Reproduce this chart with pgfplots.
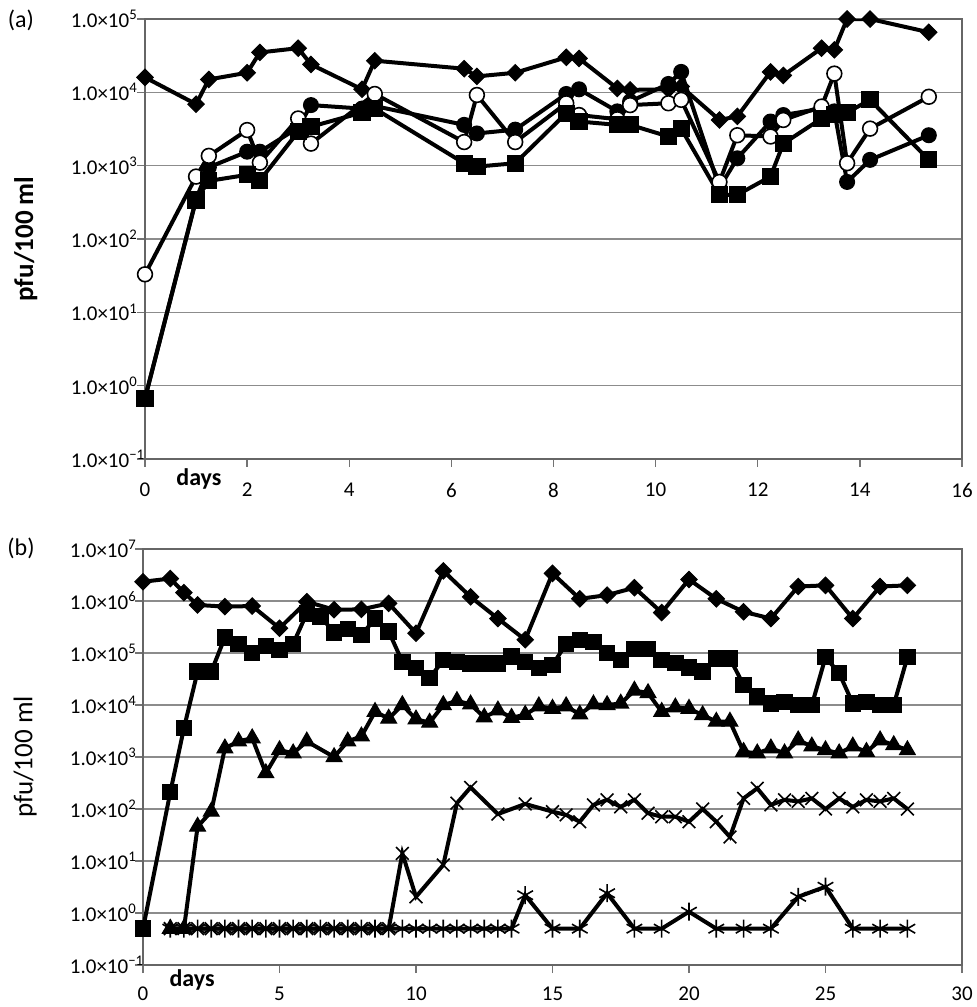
\documentclass[border=0pt]{standalone}
\usepackage{fontspec}
\setmainfont{Carlito}
\usepackage{pgfplots}
\usepackage{pgfplotstable}
\pgfplotsset{compat=1.18}

% ---- panel (a) ----
\pgfplotstableread{
day val
0 1.6e4
1.0 6.9e3
1.25 1.5e4
2.0 1.85e4
2.25 3.5e4
3.0 4.0e4
3.25 2.4e4
4.25 1.1e4
4.5 2.7e4
6.25 2.1e4
6.5 1.65e4
7.25 1.85e4
8.25 3.0e4
8.5 2.9e4
9.25 1.13e4
9.5 1.08e4
10.25 1.1e4
10.5 1.2e4
11.25 4.2e3
11.6 4.7e3
12.25 1.9e4
12.5 1.7e4
13.25 4.0e4
13.5 3.8e4
13.75 1.0e5
14.2 1.0e5
15.35 6.6e4
}\aDiamond

\pgfplotstableread{
day val
0 0.67
1.0 3.5e2
1.25 9.5e2
2.0 1.55e3
2.25 1.55e3
3.0 3.3e3
3.25 6.7e3
4.25 6.0e3
4.5 6.5e3
6.25 3.6e3
6.5 2.75e3
7.25 3.1e3
8.25 9.5e3
8.5 1.1e4
9.25 5.5e3
9.5 7.5e3
10.25 1.3e4
10.5 1.9e4
11.25 5.0e2
11.6 1.26e3
12.25 4.0e3
12.5 4.9e3
13.25 6.0e3
13.5 5.5e3
13.75 6.0e2
14.2 1.2e3
15.35 2.6e3
}\aDot

\pgfplotstableread{
day val
0 33
1.0 7.1e2
1.25 1.36e3
2.0 3.06e3
2.25 1.1e3
3.0 4.4e3
3.25 2.0e3
4.5 9.5e3
6.25 2.1e3
6.5 9.2e3
7.25 2.1e3
8.25 7.1e3
8.5 4.9e3
9.25 4.3e3
9.5 6.7e3
10.25 7.1e3
10.5 7.9e3
11.25 6.0e2
11.6 2.6e3
12.25 2.5e3
12.5 4.2e3
13.25 6.4e3
13.5 1.8e4
13.75 1.08e3
14.2 3.2e3
15.35 8.7e3
}\aCircle

\pgfplotstableread{
day val
0 0.67
1.0 3.4e2
1.25 6.2e2
2.0 7.5e2
2.25 6.3e2
3.0 2.9e3
3.25 3.4e3
4.25 5.3e3
4.5 6.0e3
6.25 1.08e3
6.5 9.7e2
7.25 1.08e3
8.25 5.2e3
8.5 4.0e3
9.25 3.6e3
9.5 3.6e3
10.25 2.5e3
10.5 3.2e3
11.25 4.0e2
11.6 4.0e2
12.25 7.1e2
12.5 2.0e3
13.25 4.4e3
13.5 5.0e3
13.75 5.3e3
14.2 7.9e3
15.35 1.2e3
}\aSquare

% ---- panel (b) ----
\pgfplotstableread{
day val
0 2.35e6
1 2.7e6
1.5 1.45e6
2 8.4e5
3 7.8e5
4 8.0e5
5 3.0e5
6 9.7e5
7 6.8e5
8 6.9e5
9 9.0e5
10 2.4e5
11 3.8e6
12 1.2e6
13 4.6e5
14 1.8e5
15 3.4e6
16 1.1e6
17 1.3e6
18 1.8e6
19 6.0e5
20 2.6e6
21 1.1e6
22 6.2e5
23 4.6e5
24 1.9e6
25 2.0e6
26 4.6e5
27 1.9e6
28 2.0e6
}\bDiamond

\pgfplotstableread{
day val
0 0.5
1 2.1e2
1.5 3.6e3
2 4.4e4
2.5 4.4e4
3 2.0e5
3.5 1.5e5
4 9.9e4
4.5 1.36e5
5 1.15e5
5.5 1.5e5
6 5.8e5
6.5 5.0e5
7 2.5e5
7.5 2.9e5
8 2.2e5
8.5 4.6e5
9 2.6e5
9.5 6.8e4
10 5.1e4
10.5 3.3e4
11 7.3e4
11.5 6.8e4
12 6.3e4
12.5 6.3e4
13 6.3e4
13.5 8.5e4
14 6.8e4
14.5 5.1e4
15 5.9e4
15.5 1.5e5
16 1.8e5
16.5 1.65e5
17 9.9e4
17.5 7.3e4
18 1.2e5
18.5 1.2e5
19 7.3e4
19.5 6.5e4
20 5.3e4
20.5 4.4e4
21 7.9e4
21.5 7.9e4
22 2.4e4
22.5 1.45e4
23 1.07e4
23.5 1.15e4
24 1.0e4
24.5 1.0e4
25 8.3e4
25.5 4.1e4
26 1.07e4
26.5 1.15e4
27 1.0e4
27.5 1.0e4
28 8.3e4
}\bSquare

\pgfplotstableread{
day val
1 0.5
1.5 0.5
2 46
2.5 89
3 1.47e3
3.5 2.0e3
4 2.3e3
4.5 4.9e2
5 1.36e3
5.5 1.18e3
6 2.0e3
7 1.0e3
7.5 2.0e3
8 2.5e3
8.5 7.4e3
9 5.5e3
9.5 1.0e4
10 5.3e3
10.5 4.6e3
11 1.0e4
11.5 1.2e4
12 1.03e4
12.5 5.8e3
13 7.9e3
13.5 5.7e3
14 6.5e3
14.5 9.5e3
15 8.5e3
15.5 9.5e3
16 6.6e3
16.5 1.03e4
17 1.0e4
17.5 1.07e4
18 1.9e4
18.5 1.7e4
19 7.4e3
19.5 9.0e3
20 8.5e3
20.5 6.4e3
21 4.8e3
21.5 4.8e3
22 1.26e3
22.5 1.18e3
23 1.47e3
23.5 1.18e3
24 2.1e3
24.5 1.6e3
25 1.36e3
25.5 1.18e3
26 1.6e3
26.5 1.26e3
27 2.1e3
27.5 1.7e3
28 1.36e3
}\bTriangle

\pgfplotstableread{
day val
1 0.5
1.5 0.5
2 0.5
2.5 0.5
3 0.5
3.5 0.5
4 0.5
4.5 0.5
5 0.5
5.5 0.5
6 0.5
6.5 0.5
7 0.5
7.5 0.5
8 0.5
8.5 0.5
9 0.5
9.5 14
10 2.05
11 8.4
11.5 1.3e2
12 2.6e2
13 80
14 1.25e2
15 89
15.5 77
16 57
16.5 1.2e2
17 1.5e2
17.5 1.1e2
18 1.5e2
18.5 83
19 71
19.5 71
20 57
20.5 1.0e2
21 57
21.5 29
22 1.6e2
22.5 2.5e2
23 1.2e2
23.5 1.5e2
24 1.4e2
24.5 1.6e2
25 1.0e2
25.5 1.6e2
26 1.1e2
26.5 1.5e2
27 1.4e2
27.5 1.6e2
28 1.0e2
}\bCross

\pgfplotstableread{
day val
1 0.5
1.5 0.5
2 0.5
2.5 0.5
3 0.5
3.5 0.5
4 0.5
4.5 0.5
5 0.5
5.5 0.5
6 0.5
6.5 0.5
7 0.5
7.5 0.5
8 0.5
8.5 0.5
9 0.5
9.5 0.5
10 0.5
10.5 0.5
11 0.5
11.5 0.5
12 0.5
12.5 0.5
13 0.5
13.5 0.5
14 2.2
15 0.5
16 0.5
17 2.4
18 0.5
19 0.5
20 1.06
21 0.5
22 0.5
23 0.5
24 2.05
25 3.2
26 0.5
27 0.5
28 0.5
}\bStar

\begin{document}
\begin{tikzpicture}
\path[use as bounding box] (0pt,0pt) rectangle (488.5pt,-503.5pt);

\node[font=\fontsize{12}{14}\selectfont] at (10.5pt,-10pt) {(a)};
\node[font=\fontsize{12}{14}\selectfont] at (10.5pt,-274pt) {(b)};

\begin{axis}[
  scale only axis,
  at={(72.5pt,-9.5pt)}, anchor=north west,
  width=408.5pt, height=220pt,
  ymode=log,
  yminorticks=false,
  axis line style={draw=black!60, line width=0.8pt},
  ymajorgrids,
  major grid style={draw=black!45, line width=0.8pt},
  tick align=outside,
  major tick length=4pt,
  tick style={draw=black!55, line width=0.7pt},
  xtick pos=bottom,
  ytick pos=left,
  /pgf/number format/assume math mode=true,
  xmin=0, xmax=16, ymin=0.1, ymax=1e5,
  xtick={0,2,...,16},
  ytick={1e-1,1,1e1,1e2,1e3,1e4,1e5},
  yticklabels={1.0×10\textsuperscript{−1},1.0×10\textsuperscript{0},1.0×10\textsuperscript{1},1.0×10\textsuperscript{2},1.0×10\textsuperscript{3},1.0×10\textsuperscript{4},1.0×10\textsuperscript{5}},
  yticklabel style={font=\fontsize{10.5}{12}\selectfont, text width=40pt, align=left, anchor=east, xshift=10.5pt},
  xticklabel style={font=\fontsize{10.5}{12}\selectfont, yshift=-4.5pt},
  ylabel={\textbf{pfu/100 ml}},
  ylabel style={at={(axis description cs:-0.146,0.5)}, anchor=center, font=\fontsize{13.5}{15}\selectfont},
  xlabel={\textbf{days}},
  xlabel style={at={(axis description cs:0.066,-0.045)}, anchor=center, font=\fontsize{12}{14}\selectfont},
]
\addplot[black, line width=2pt, mark=square*, mark size=2.9pt, mark options={solid, rotate=45, fill=black, line width=0.5pt}] table[x=day, y=val] {\aDiamond};
\addplot[black, line width=2pt, mark=*, mark size=3.7pt, mark options={solid, fill=black, line width=0.6pt}] table[x=day, y=val] {\aDot};
\addplot[black, line width=2pt, mark=*, mark size=3.7pt, mark options={solid, fill=white, draw=black, line width=0.8pt}] table[x=day, y=val] {\aCircle};
\addplot[black, line width=2pt, mark=square*, mark size=4pt, mark options={solid, fill=black, line width=0.6pt}] table[x=day, y=val] {\aSquare};
\end{axis}

\begin{axis}[
  scale only axis,
  at={(71.5pt,-274.5pt)}, anchor=north west,
  width=409.5pt, height=208pt,
  ymode=log,
  yminorticks=false,
  axis line style={draw=black!60, line width=0.8pt},
  ymajorgrids,
  major grid style={draw=black!45, line width=0.8pt},
  tick align=outside,
  major tick length=4pt,
  tick style={draw=black!55, line width=0.7pt},
  xtick pos=bottom,
  ytick pos=left,
  /pgf/number format/assume math mode=true,
  xmin=0, xmax=30, ymin=0.1, ymax=1e7,
  xtick={0,5,...,30},
  ytick={1e-1,1,1e1,1e2,1e3,1e4,1e5,1e6,1e7},
  yticklabels={1.0×10\textsuperscript{−1},1.0×10\textsuperscript{0},1.0×10\textsuperscript{1},1.0×10\textsuperscript{2},1.0×10\textsuperscript{3},1.0×10\textsuperscript{4},1.0×10\textsuperscript{5},1.0×10\textsuperscript{6},1.0×10\textsuperscript{7}},
  yticklabel style={font=\fontsize{10.5}{12}\selectfont, text width=40pt, align=left, anchor=east, xshift=11pt},
  xticklabel style={font=\fontsize{10.5}{12}\selectfont, yshift=-3.5pt},
  ylabel={pfu/100 ml},
  ylabel style={at={(axis description cs:-0.144,0.5)}, anchor=center, font=\fontsize{13.5}{15}\selectfont},
  xlabel={\textbf{days}},
  xlabel style={at={(axis description cs:0.06,-0.037)}, anchor=center, font=\fontsize{12}{14}\selectfont},
]
\addplot[black, line width=2pt, mark=square*, mark size=2.9pt, mark options={solid, rotate=45, fill=black, line width=0.5pt}] table[x=day, y=val] {\bDiamond};
\addplot[black, line width=2pt, mark=square*, mark size=3.8pt, mark options={solid, fill=black, line width=0.6pt}] table[x=day, y=val] {\bSquare};
\addplot[black, line width=2pt, mark=triangle*, mark size=4.5pt, mark options={solid, fill=black, line width=0.6pt}] table[x=day, y=val] {\bTriangle};
\addplot[black, line width=2pt, mark=x, mark size=4.5pt, mark options={solid, line width=0.8pt}] table[x=day, y=val] {\bCross};
\addplot[black, line width=2pt, mark=asterisk, mark size=4.5pt, mark options={solid, line width=0.8pt}] table[x=day, y=val] {\bStar};
\end{axis}
\end{tikzpicture}
\end{document}
